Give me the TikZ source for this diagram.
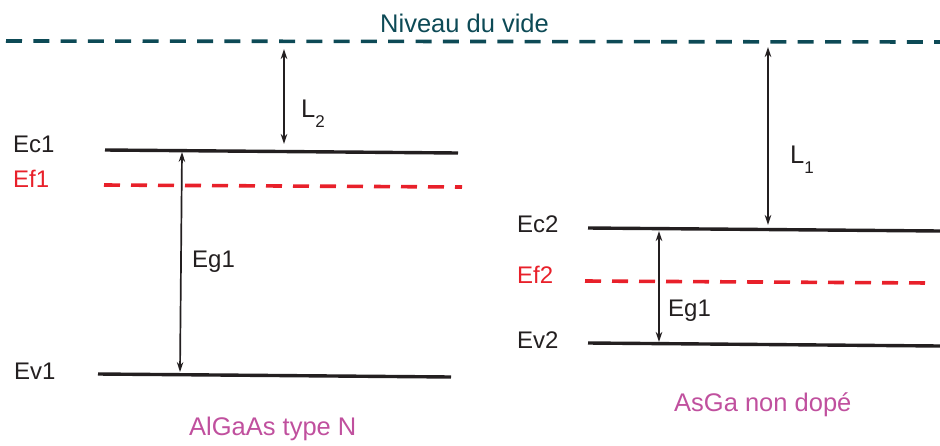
\documentclass[tikz,border=0pt]{standalone}
\usepackage{fontspec}
\setmainfont{Liberation Sans}
\usetikzlibrary{arrows.meta}
\definecolor{teal1}{HTML}{0D4A56}
\definecolor{red1}{HTML}{E8202A}
\definecolor{pink1}{HTML}{C0509E}
\definecolor{ink}{HTML}{231F20}
\tikzset{
  level/.style={draw=ink, line width=3.4pt},
  fermi/.style={draw=red1, line width=3.6pt, dash pattern=on 16pt off 11pt},
  vide/.style={draw=teal1, line width=3.6pt, dash pattern=on 16pt off 11.3pt},
  gap/.style={draw=ink, line width=1.7pt, {Stealth[length=10pt,width=6.5pt]}-{Stealth[length=10pt,width=6.5pt]}},
  lbl/.style={anchor=base west, inner sep=0pt, text=ink, font=\fontsize{24}{24}\selectfont},
  redlbl/.style={lbl, text=red1},
  captxt/.style={anchor=base west, inner sep=0pt, text=pink1, font=\fontsize{25.5}{25.5}\selectfont},
  llbl/.style={anchor=base west, inner sep=0pt, text=ink, font=\fontsize{25.5}{25.5}\selectfont}
}
\newcommand{\Lsub}[1]{L\raisebox{-0.42em}{\fontsize{17}{17}\selectfont #1}}
\begin{document}
\begin{tikzpicture}[x=1pt,y=-1pt]
\useasboundingbox (0,0) rectangle (940,445);
% vacuum level
\coordinate (v0) at (6,41);
\coordinate (v1) at (940,42);
\draw[vide] (v0) -- (v1);
\node[llbl, text=teal1] (nv) at (380,32) {Niveau du vide};
% left material
\coordinate (ec1a) at (105,150);
\coordinate (ec1b) at (458,153);
\coordinate (ef1a) at (104,185);
\coordinate (ef1b) at (462,187);
\coordinate (ev1a) at (98,374);
\coordinate (ev1b) at (451,377);
\draw[level] (ec1a) -- (ec1b);
\draw[fermi] (ef1a) -- (ef1b);
\draw[level] (ev1a) -- (ev1b);
\coordinate (g1t) at (182,152);
\coordinate (g1b) at (180,372);
\draw[gap] (g1t) -- (g1b);
\coordinate (l2t) at (284,49);
\coordinate (l2b) at (284,144);
\draw[gap] (l2t) -- (l2b);
\node[lbl] (ec1) at (13,152) {Ec1};
\node[redlbl] (ef1) at (13,187) {Ef1};
\node[lbl] (ev1) at (14,379) {Ev1};
\node[lbl] (eg1) at (192,267) {Eg1};
\node[llbl] (l2) at (301,117) {\Lsub{2}};
\node[captxt] (algaas) at (189,435) {AlGaAs type N};
% right material
\coordinate (ec2a) at (588,228);
\coordinate (ec2b) at (940,231);
\coordinate (ef2a) at (585,281);
\coordinate (ef2b) at (930,283);
\coordinate (ev2a) at (588,343);
\coordinate (ev2b) at (940,346);
\draw[level] (ec2a) -- (ec2b);
\draw[fermi] (ef2a) -- (ef2b);
\draw[level] (ev2a) -- (ev2b);
\coordinate (g2t) at (659,231);
\coordinate (g2b) at (659,342);
\draw[gap] (g2t) -- (g2b);
\coordinate (l1t) at (768,47);
\coordinate (l1b) at (768,225);
\draw[gap] (l1t) -- (l1b);
\node[lbl] (ec2) at (517,232) {Ec2};
\node[redlbl] (ef2) at (517,283) {Ef2};
\node[lbl] (ev2) at (517,348) {Ev2};
\node[lbl] (eg2) at (668,316) {Eg1};
\node[llbl] (l1) at (790,163) {\Lsub{1}};
\node[captxt] (asga) at (674,411) {AsGa non dopé};
\end{tikzpicture}
\end{document}
